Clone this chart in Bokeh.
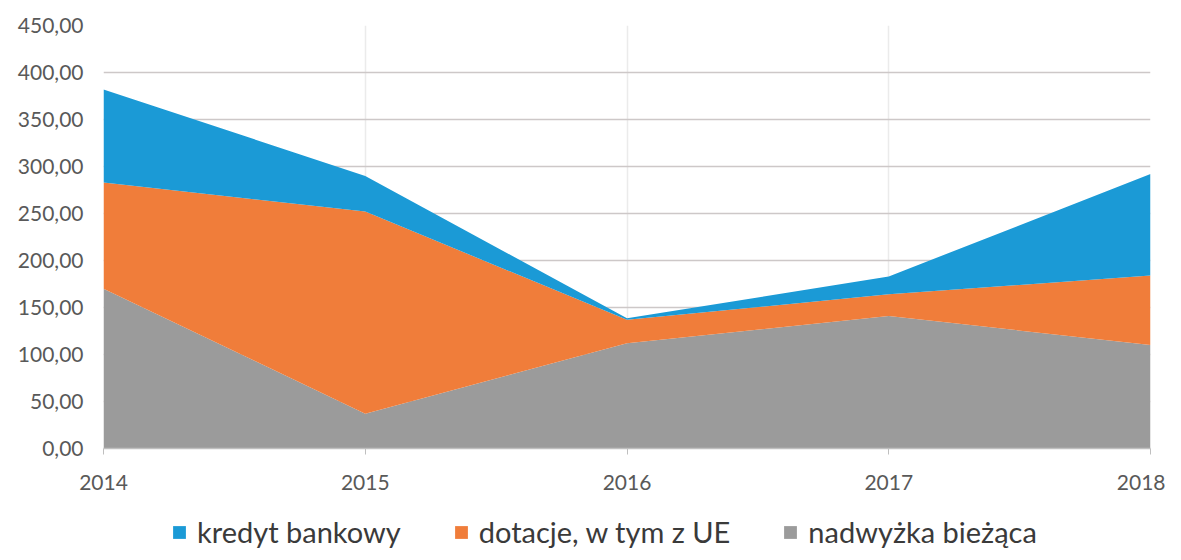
from bokeh.plotting import figure
from bokeh.layouts import column
from bokeh.models import ColumnDataSource, Legend, LegendItem, CustomJSTickFormatter, FixedTicker, Range1d
from bokeh.embed import file_html
from bokeh.resources import INLINE

years = [2014, 2015, 2016, 2017, 2018]
nadwyzka = [170, 37, 112, 141, 110]
dotacje = [113, 215, 25, 23, 74]
kredyt = [99, 38, 1.5, 19, 108]
series_names = ["nadwyżka bieżąca", "dotacje, w tym z UE", "kredyt bankowy"]
colors = ["#9b9b9b", "#f07d3a", "#1b9ad6"]
y_ticks = [0, 50, 100, 150, 200, 250, 300, 350, 400, 450]

source = ColumnDataSource(dict(year=years, nadwyzka=nadwyzka, dotacje=dotacje, kredyt=kredyt))
stackers = ["nadwyzka", "dotacje", "kredyt"]

FONT = "Lato"

p = figure(width=1165, height=492, output_backend="svg", toolbar_location=None,
           x_range=Range1d(2014, 2018), y_range=Range1d(0, 450),
           min_border_left=103, min_border_right=15, min_border_top=25, min_border_bottom=39)
p.outline_line_color = None

p.varea_stack(stackers=stackers, x="year", color=colors, source=source)

p.xaxis.ticker = FixedTicker(ticks=years)
p.yaxis.ticker = FixedTicker(ticks=y_ticks)
p.yaxis.formatter = CustomJSTickFormatter(code="return tick.toFixed(2).replace('.', ',');")

for ax in (p.xaxis, p.yaxis):
    ax.major_label_text_font = FONT
    ax.major_label_text_font_size = "21px"
    ax.major_label_text_color = "#595959"
    ax.minor_tick_line_color = None

p.yaxis.axis_line_color = None
p.yaxis.major_tick_line_color = None
p.yaxis.major_label_standoff = 14

p.xaxis.axis_line_color = "#bfbfbf"
p.xaxis.axis_line_width = 1.5
p.xaxis.major_tick_line_color = "#bfbfbf"
p.xaxis.major_tick_out = 6
p.xaxis.major_tick_in = 0
p.xaxis.major_label_standoff = 20

p.ygrid.grid_line_color = "#cdc8c8"
p.ygrid.grid_line_width = 1.5
p.xgrid.grid_line_color = "#ebebeb"
p.xgrid.grid_line_width = 1.5

# legend strip below the chart (same stacked series, kept outside the strip's visible ranges)
q = figure(width=1165, height=60, output_backend="svg", toolbar_location=None,
           x_axis_type=None, y_axis_type=None,
           x_range=Range1d(0, 1), y_range=Range1d(0, 1),
           min_border_left=0, min_border_right=0, min_border_top=0, min_border_bottom=0)
q.grid.visible = False
q.outline_line_color = None
q_renderers = q.varea_stack(stackers=stackers, x="year", color=colors, source=source)

items = [LegendItem(label=series_names[i], renderers=[q_renderers[i]]) for i in (2, 1, 0)]
legend = Legend(items=items, location=(68, 3), orientation="horizontal",
                label_text_font=FONT, label_text_font_size="29px", label_text_color="#3a3a3a",
                glyph_width=16, glyph_height=16, spacing=52, padding=0, margin=0,
                label_standoff=10, border_line_color=None, background_fill_alpha=0)
q.add_layout(legend, "center")

layout = column(p, q, spacing=0)
open("out.html", "w").write(file_html(layout, INLINE))
